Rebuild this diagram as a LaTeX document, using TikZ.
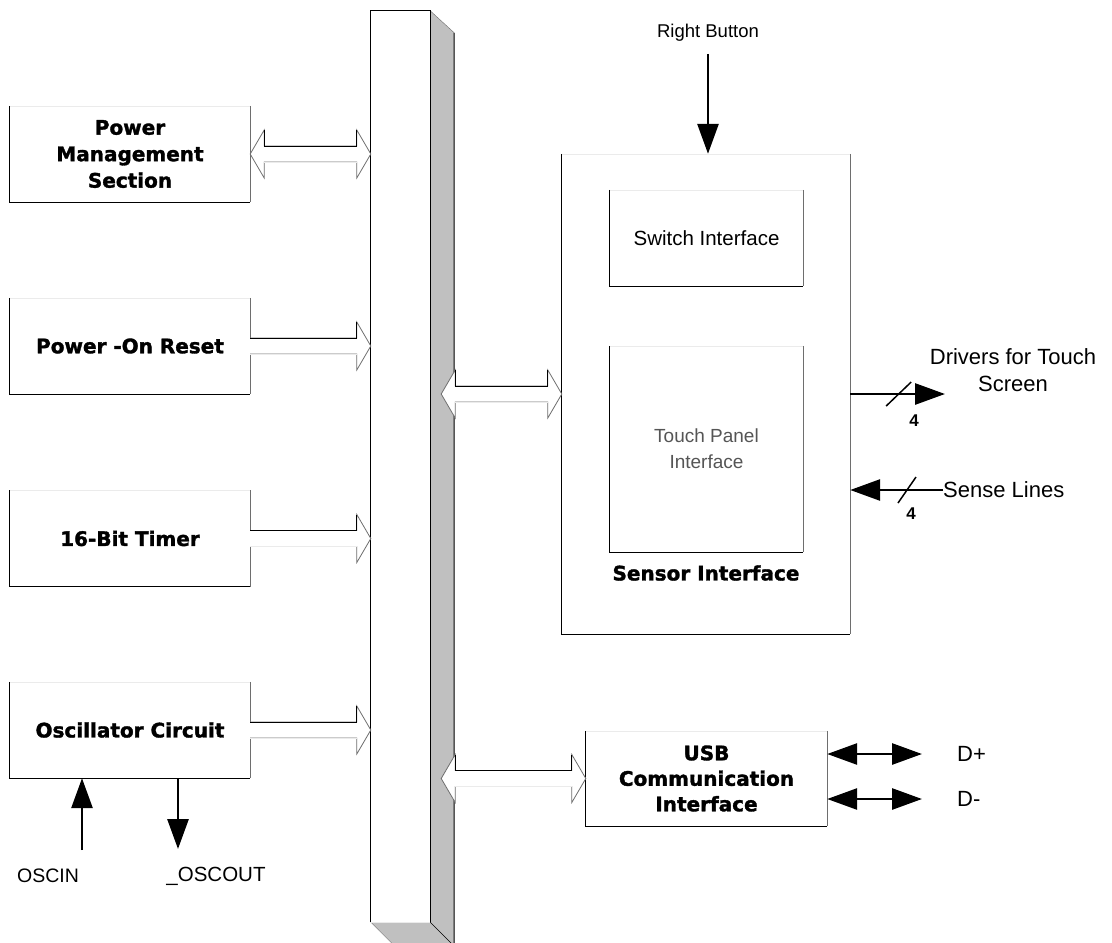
\documentclass[tikz,border=0pt]{standalone}
\usepackage{fontspec}
\setmainfont{Liberation Sans}
\newfontfamily\heavyfont{DejaVu Sans}[BoldFeatures={FakeBold=1.6}]
\usetikzlibrary{arrows.meta,calc}
\definecolor{busgray}{HTML}{C0C0C0}
\definecolor{rimgray}{HTML}{6E6E6E}
\definecolor{rimlite}{HTML}{EBEBEB}
\definecolor{softtext}{HTML}{555555}
\tikzset{
  unit/.style={minimum width=240pt, minimum height=96pt, inner sep=0pt, align=center,
    font=\heavyfont\bfseries\fontsize{20}{26.5}\selectfont},
  sub/.style={inner sep=0pt, align=center, font=\fontsize{20.5}{26}\selectfont},
  tag/.style={inner sep=0pt, align=center, font=\fontsize{22}{27}\selectfont},
  cnt/.style={inner sep=0pt, font=\bfseries\fontsize{17}{17}\selectfont},
  sig/.style={line width=2.8pt, -{Triangle[length=30pt,width=21pt]}},
  duplex/.style={line width=2.8pt, {Triangle[length=30pt,width=21pt]}-{Triangle[length=30pt,width=21pt]}},
  slash/.style={line width=1.5pt},
  hollow/.style={draw=rimgray, line width=0.8pt, fill=white},
  hollowtop/.style={draw=black, line width=1pt},
  hollowbot/.style={draw=rimlite, line width=1pt},
}
% hollow bus arrow, pointing right
\newcommand\busarrow[2]{%
  \path (#1) coordinate (hx) (#2) coordinate (hy);
  \filldraw[hollow] let \p1=(hx), \p2=(hy) in
    (\x1,{\y1+8pt}) -- ({\x2-14pt},{\y1+8pt}) -- ({\x2-14pt},{\y1+24pt}) -- (\x2,\y1)
    -- ({\x2-14pt},{\y1-24pt}) -- ({\x2-14pt},{\y1-8pt}) -- (\x1,{\y1-8pt});
  \draw[hollowbot] let \p1=(hx), \p2=(hy) in (\x1,{\y1-8pt}) -- ({\x2-14pt},{\y1-8pt});
  \draw[hollowtop] let \p1=(hx), \p2=(hy) in
    (\x1,{\y1+8pt}) -- ({\x2-14pt},{\y1+8pt}) -- ({\x2-14pt},{\y1+24pt});
}
% hollow bus arrow, both ways
\newcommand\busduplex[2]{%
  \path (#1) coordinate (hx) (#2) coordinate (hy);
  \filldraw[hollow] let \p1=(hx), \p2=(hy) in
    (\x1,\y1) -- ({\x1+14pt},{\y1+24pt}) -- ({\x1+14pt},{\y1+8pt}) -- ({\x2-14pt},{\y1+8pt})
    -- ({\x2-14pt},{\y1+24pt}) -- (\x2,\y1) -- ({\x2-14pt},{\y1-24pt}) -- ({\x2-14pt},{\y1-8pt})
    -- ({\x1+14pt},{\y1-8pt}) -- ({\x1+14pt},{\y1-24pt}) -- cycle;
  \draw[hollowbot] let \p1=(hx), \p2=(hy) in ({\x1+14pt},{\y1-8pt}) -- ({\x2-14pt},{\y1-8pt});
  \draw[hollowtop] let \p1=(hx), \p2=(hy) in
    ({\x1+14pt},{\y1+24pt}) -- ({\x1+14pt},{\y1+8pt}) -- ({\x2-14pt},{\y1+8pt}) -- ({\x2-14pt},{\y1+24pt});
}
\begin{document}
\begin{tikzpicture}[x=1pt,y=-1pt]
  \useasboundingbox (0,0) rectangle (1112,943);
  % the bus
  \node[minimum width=59pt, minimum height=911pt, inner sep=0pt] (bus) at (400.5,466.5) {};
  \fill[busgray] (bus.north east) -- ++(24,22) -- (454,943) -- (392,943) -- (bus.south west)
    -- (bus.south east) -- cycle;
  \draw[rimgray] (bus.north east) -- ++(24,22);
  \draw[black, line width=1pt] ($(bus.north east)+(24,22)$) -- (454,943);
  \draw[black] (bus.south east) -- ++(21,21);
  \draw[rimgray] (bus.south west) -- ++(21,21);
  \draw[black, line width=0.9pt] (bus.south west) -- (bus.north west) -- (bus.north east) -- (bus.south east);
  \draw[rimlite] (bus.south west) -- (bus.south east);
  \coordinate (bustap) at ($(bus.north east)+(11,0)$);
  % blocks
  \node[unit] (pms) at (130,154) {Power\\Management\\Section};
  \node[unit] (por) at (130,346) {Power -On Reset};
  \node[unit] (tmr) at (130,538.5) {16-Bit Timer};
  \node[unit] (osc) at (130,730) {Oscillator Circuit};
  \node[minimum width=288pt, minimum height=480pt, inner sep=0pt] (sen) at (706,394) {};
  \node[sub, minimum width=193pt, minimum height=96pt] (swi) at (706.5,238) {Switch Interface};
  \node[sub, minimum width=193pt, minimum height=206pt, text=softtext,
    font=\fontsize{19}{26}\selectfont] (tpi) at (706.5,449) {Touch Panel\\Interface};
  \node[inner sep=0pt, font=\heavyfont\bfseries\fontsize{20}{24}\selectfont] (senlbl) at (706,573) {Sensor Interface};
  \node[unit, minimum width=241pt, minimum height=95pt, font=\heavyfont\bfseries\fontsize{20}{25.5}\selectfont]
    (usb) at (706.5,778.5) {USB\\Communication\\Interface};
  \foreach \b in {pms,por,tmr,osc,sen,swi,tpi,usb} {
    \draw[rimlite] (\b.north west) -- (\b.north east);
    \draw[rimgray] (\b.north east) -- (\b.south east);
    \draw[black, line width=0.9pt] (\b.north west) -- (\b.south west) -- (\b.south east);
  }
  % bus arrows
  \busduplex{pms.east}{pms.east -| bus.west}
  \busarrow{por.east}{por.east -| bus.west}
  \busarrow{tmr.east}{tmr.east -| bus.west}
  \busarrow{osc.east}{osc.east -| bus.west}
  \busduplex{bustap |- sen.west}{sen.west}
  \busduplex{bustap |- usb.west}{usb.west}
  % signals
  \node[tag, font=\fontsize{18.5}{22}\selectfont] (rbt) at (708,33) {Right Button};
  \draw[sig] ([yshift=-12pt]rbt.south) -- (rbt.south |- sen.north);
  \node[tag] (drv) at (1013,370) {Drivers for Touch\\Screen};
  \coordinate (drvtip) at (945,394);
  \draw[sig] (sen.east) -- (drvtip);
  \draw[slash] ($(sen.east)+(36,12)$) -- ++(25,-24);
  \node[cnt] (drvcnt) at (914,421) {4};
  \node[tag, anchor=west] (sns) at (943,490) {Sense Lines};
  \draw[sig] (sns.west) -- (sns.west -| sen.east);
  \draw[slash] (898,503) -- (916,477);
  \node[cnt] (snscnt) at (911,514) {4};
  \node[tag, anchor=west] (dpl) at (957,754) {D+};
  \node[tag, anchor=west] (dmi) at (957,799) {D-};
  \draw[duplex] (usb.east |- dpl.west) -- ($(dpl.west)+(-35,0)$);
  \draw[duplex] (usb.east |- dmi.west) -- ($(dmi.west)+(-35,0)$);
  \node[tag, font=\fontsize{19.5}{22}\selectfont] (oin) at (48,876) {OSCIN};
  \node[tag, font=\fontsize{20.5}{22}\selectfont] (oout) at (216,876) {\_OSCOUT};
  \coordinate (oinfoot) at (82,850);
  \coordinate (ooutfoot) at (178,849);
  \draw[sig] (oinfoot) -- (oinfoot |- osc.south);
  \draw[sig] (ooutfoot |- osc.south) -- (ooutfoot);
\end{tikzpicture}
\end{document}
